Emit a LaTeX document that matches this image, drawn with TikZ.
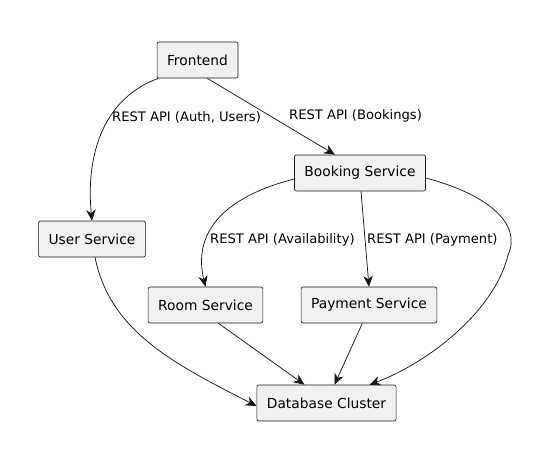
\documentclass[tikz,border=0pt]{standalone}
\usepackage{fontspec}
\setmainfont{DejaVu Sans}
\usetikzlibrary{arrows.meta}

\definecolor{boxfill}{HTML}{F1F1F1}
\definecolor{ink}{HTML}{181818}

\tikzset{
  svc/.style={draw=ink,fill=boxfill,rounded corners=2pt,line width=0.6pt,
    minimum height=36pt,inner xsep=10pt,font=\fontsize{13.8}{16}\selectfont},
  link/.style={ink,line width=0.75pt,-{Stealth[length=11pt,width=9.5pt,inset=3.5pt]}},
  lbl/.style={anchor=west,inner sep=0pt,font=\fontsize{13.1}{15}\selectfont}
}

\begin{document}
\begin{tikzpicture}[x=1pt,y=-1pt]
\useasboundingbox (0,0) rectangle (544,450);

\node[svc] (front) at (197.5,60) {Frontend};
\node[svc] (book) at (360,173) {Booking Service};
\node[svc] (user) at (92,239) {User Service};
\node[svc] (room) at (205.5,305) {Room Service};
\node[svc] (pay) at (369,305) {Payment Service};
\node[svc] (db) at (326.5,403) {Database Cluster};

%\draw[red] (0,0) grid[step=50] (544,450);

\draw[link] (front.205) .. controls (100,100) and (86,160) .. (user.north);
\draw[link] (front.-62) -- ([xshift=-25pt]book.north);

\draw[link] ([yshift=-6pt]book.west) .. controls (220,198) and (193,235) .. (room.north);
\draw[link] ([xshift=1pt]book.south) -- (pay.north);
\draw[link] ([yshift=-5pt]book.east) .. controls (490,195) and (522,225) .. (508,255)
  .. controls (495,310) and (430,362) .. ([xshift=43pt]db.north);

\draw[link] ([xshift=3pt]user.south) .. controls (110,330) and (170,362) .. ([yshift=-3pt]db.west);
\draw[link] (room.-55) -- ([xshift=-22pt]db.north);
\draw[link] (pay.-110) -- ([xshift=8pt]db.north);

\node[lbl] (l1) at (112,117) {REST API (Auth, Users)};
\node[lbl] (l2) at (289,116) {REST API (Bookings)};
\node[lbl] (l3) at (210,240) {REST API (Availability)};
\node[lbl] (l4) at (367,240) {REST API (Payment)};
\end{tikzpicture}
\end{document}
